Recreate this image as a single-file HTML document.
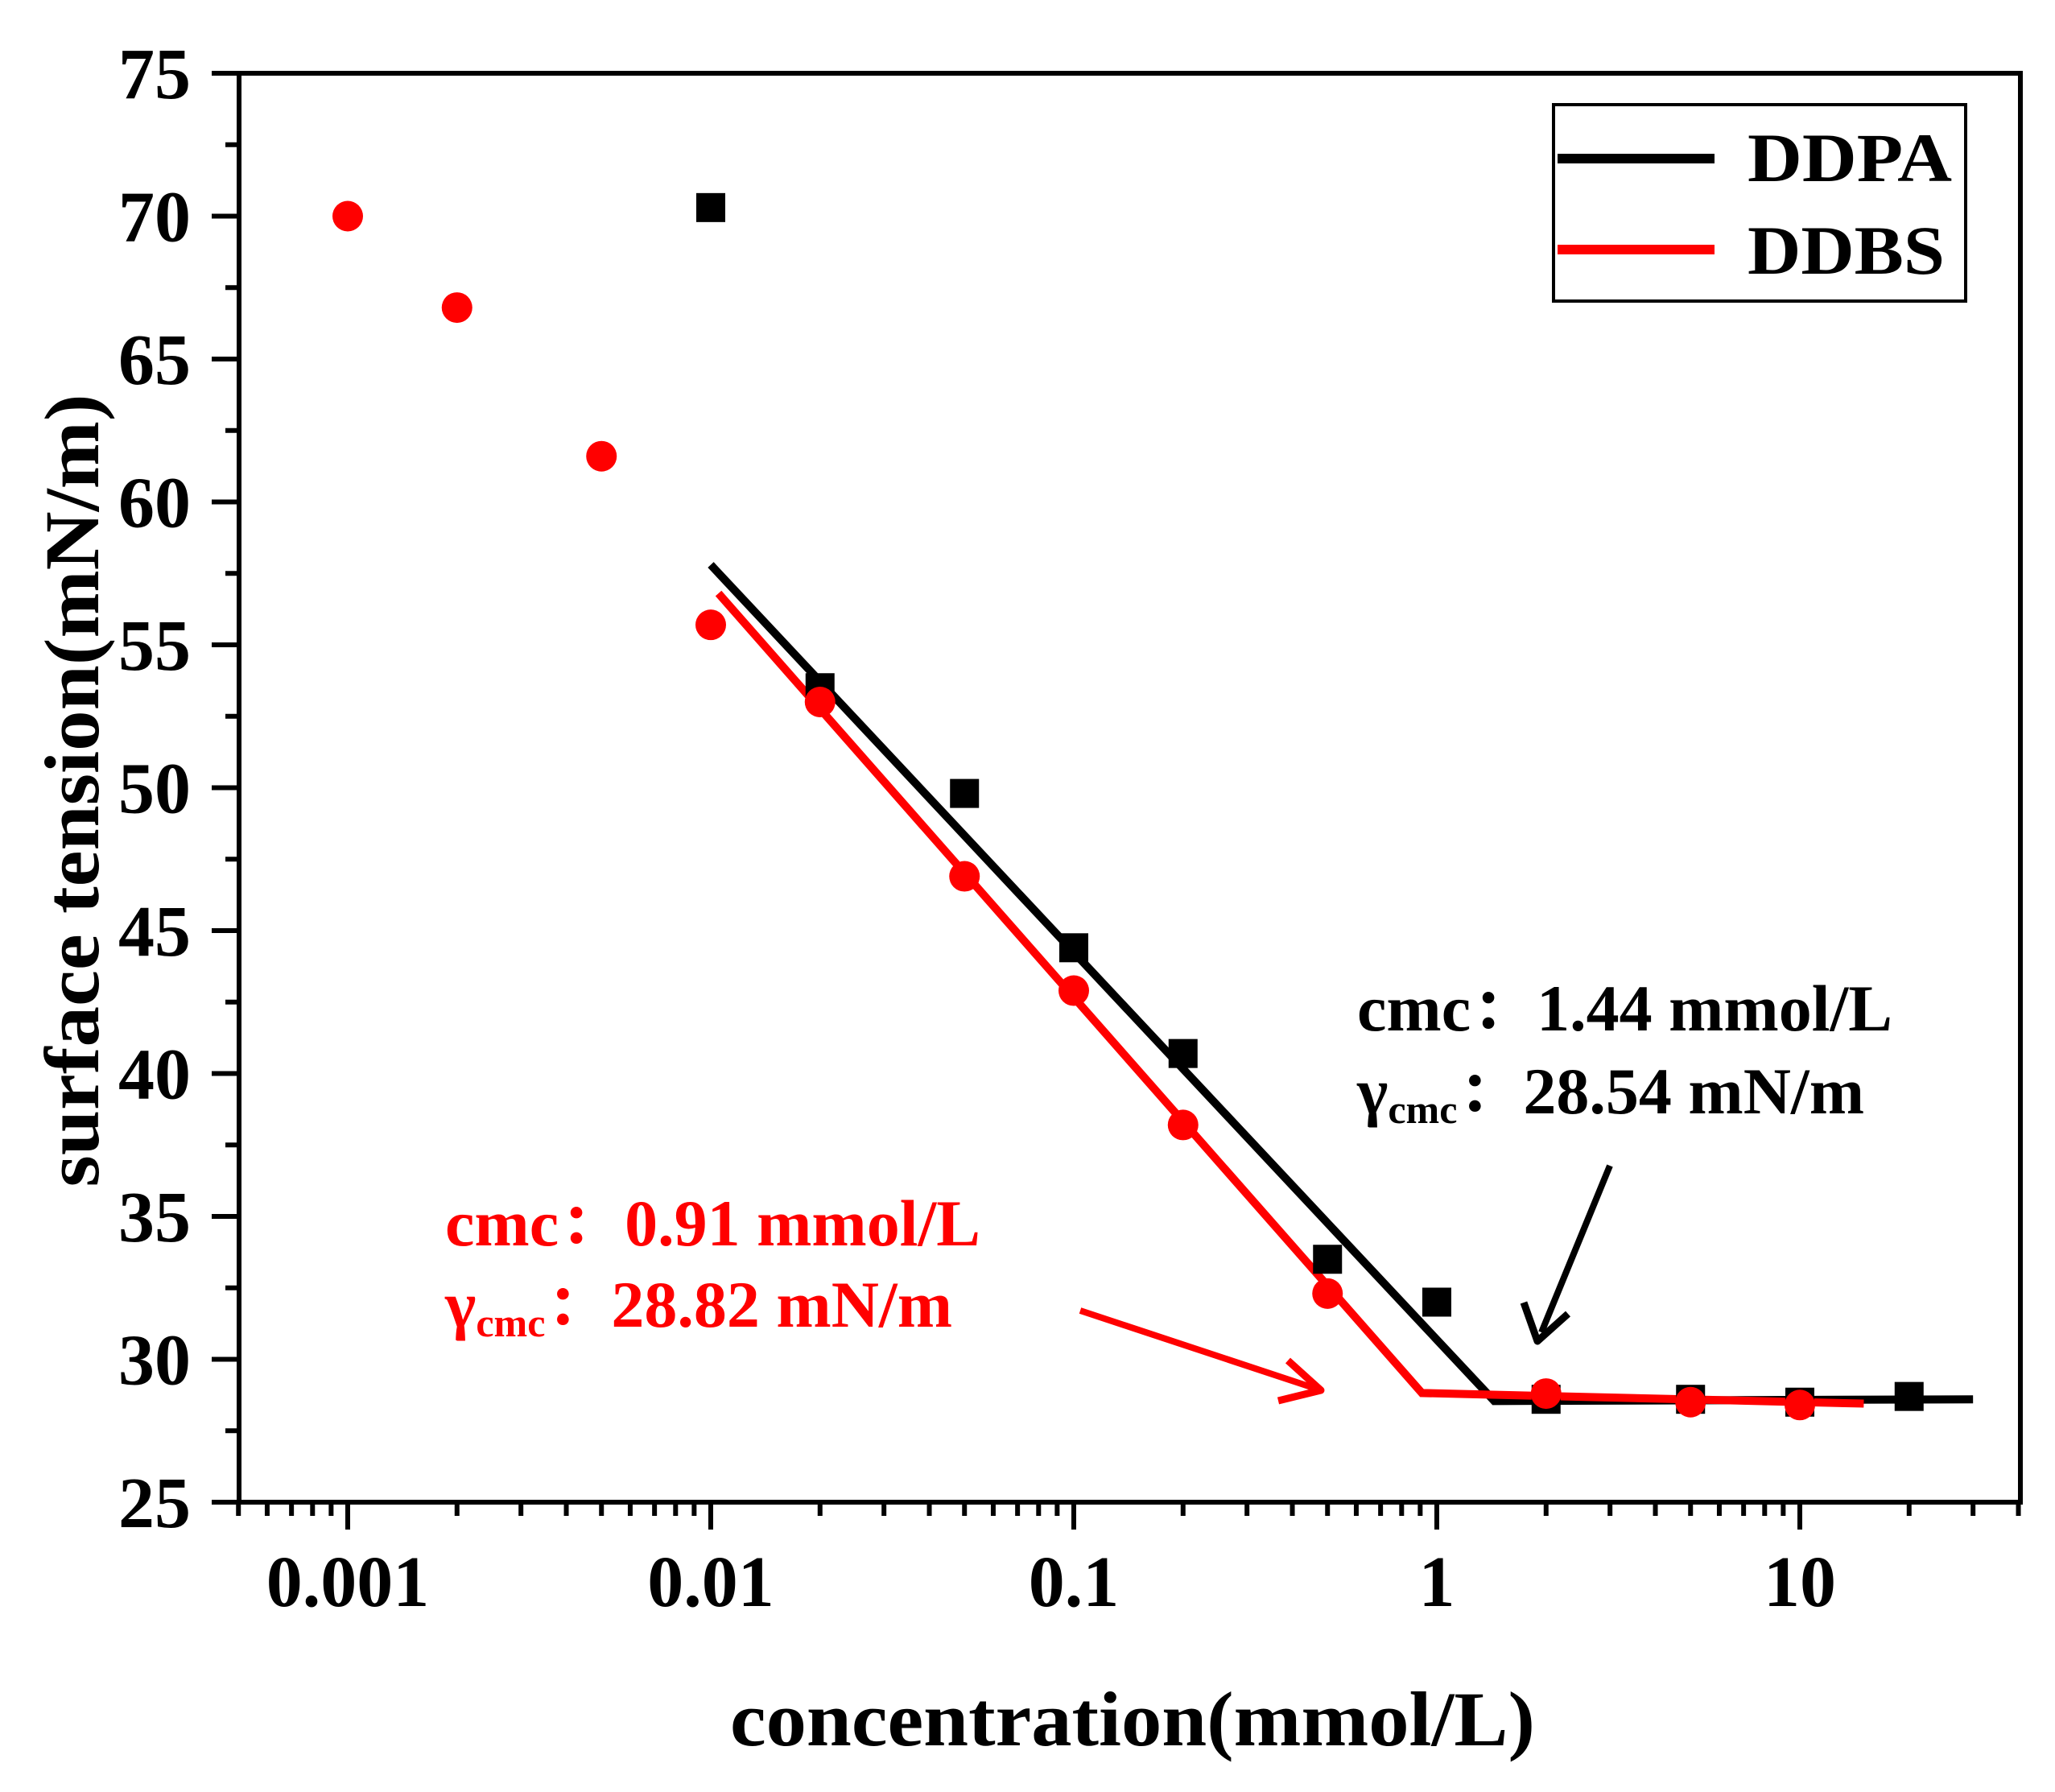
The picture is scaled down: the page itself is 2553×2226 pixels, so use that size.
<!DOCTYPE html>
<html><head><meta charset="utf-8"><style>
html,body{margin:0;padding:0;background:#fff;}
svg{display:block;}
text{font-family:"Liberation Serif","Noto Serif CJK SC",serif;font-weight:bold;}
</style></head><body>
<svg id="chart" width="2553" height="2226" viewBox="0 0 2553 2226" xmlns="http://www.w3.org/2000/svg">
<g id="axes"></g>
<g id="fits"></g>
<g id="marks"></g>
<g>
<rect x="1930" y="130" width="512" height="244" fill="#fff" stroke="#000" stroke-width="4"/>
<line x1="1935" y1="197" x2="2130" y2="197" stroke="#000" stroke-width="12"/>
<text x="2171" y="225" font-size="86" textLength="254" lengthAdjust="spacingAndGlyphs">DDPA</text>
<line x1="1935" y1="310" x2="2130" y2="310" stroke="#f00" stroke-width="12"/>
<text x="2171" y="340" font-size="86" textLength="245" lengthAdjust="spacingAndGlyphs">DDBS</text>
</g>
<g>
<text x="1686" y="1280" font-size="82" fill="#000">cmc：1.44 mmol/L</text>
<text x="1686" y="1383" font-size="82" fill="#000">γ<tspan font-size="50" dy="12">cmc</tspan><tspan dy="-12">：28.54 mN/m</tspan></text>
<line x1="2000" y1="1448" x2="1915" y2="1655" stroke="#000" stroke-width="8"/>
<polyline points="1893,1618 1910,1666 1948,1632" fill="none" stroke="#000" stroke-width="9" stroke-linejoin="round"/>
</g>
<g>
<text x="553" y="1547" font-size="82" fill="#f00">cmc：0.91 mmol/L</text>
<text x="553" y="1648" font-size="82" fill="#f00">γ<tspan font-size="50" dy="12">cmc</tspan><tspan dy="-12">：28.82 mN/m</tspan></text>
<line x1="1342" y1="1628" x2="1632" y2="1724" stroke="#f00" stroke-width="8"/>
<polyline points="1600,1690 1641,1727 1588,1740" fill="none" stroke="#f00" stroke-width="9" stroke-linejoin="round"/>
</g>
<text x="1407" y="2168" font-size="96" text-anchor="middle" textLength="1000" lengthAdjust="spacingAndGlyphs">concentration(mmol/L)</text>
<text transform="translate(122,982) rotate(-90)" font-size="96" text-anchor="middle" textLength="985" lengthAdjust="spacingAndGlyphs">surface tension(mN/m)</text>
</svg>
<script>
const ddbsX=[0.001,0.002,0.005,0.01,0.02,0.05,0.1,0.2,0.5,2,5,10];
const ddbsY=[70,66.8,61.6,55.7,53,46.9,42.9,38.2,32.3,28.8,28.5,28.4];
const ddpaX=[0.01,0.02,0.05,0.1,0.2,0.5,1,2,5,10,20];
const ddpaY=[70.3,53.5,49.8,44.4,40.7,33.5,32.0,28.6,28.6,28.5,28.7];
const ddpaFitX=[0.01,1.44,30];
const ddpaFitY=[57.8,28.54,28.6];
const ddbsFitX=[0.0105,0.91,15];
const ddbsFitY=[56.8,28.82,28.45];
const yTicks=[25,30,35,40,45,50,55,60,65,70,75];
const xTicks=[0.001,0.01,0.1,1,10];
const xTickLabels=["0.001","0.01","0.1","1","10"];
const NS="http://www.w3.org/2000/svg";
const L=297,R=2510,T=91,B=1866;
function sx(v){return 432+451*Math.log10(v/0.001);}
function sy(v){return T+(75-v)*(B-T)/50;}
function mk(tag,attrs,parent){const e=document.createElementNS(NS,tag);for(const k in attrs)e.setAttribute(k,attrs[k]);parent.appendChild(e);return e;}
const axes=document.getElementById('axes');
let f=mk('rect',{x:L,y:T,width:R-L,height:B-T,fill:'none',stroke:'#000','stroke-width':6},axes);


yTicks.forEach((v,i)=>{
  const y=sy(v);
  let t=mk('line',{x1:L-34,y1:y,x2:L,y2:y,stroke:'#000','stroke-width':6},axes);
  
  
  if(i<yTicks.length-1){const ym=sy(v+2.5);
    let m=mk('line',{x1:L-17,y1:ym,x2:L,y2:ym,stroke:'#000','stroke-width':6},axes);
    
    }
  let lb=mk('text',{x:237,y:y+31,'font-size':90,'text-anchor':'end'},axes);
  lb.textContent=String(v);
  
  
});
for(let d=-4;d<=1;d++){for(let k=1;k<=9;k++){
  const v=k*Math.pow(10,d);const x=sx(v);
  if(x<L-2||x>R+2)continue;
  const major=(k===1);
  let t=mk('line',{x1:x,y1:B,x2:x,y2:B+(major?34:17),stroke:'#000','stroke-width':6},axes);
  
  
}}
xTicks.forEach((v,i)=>{
  let lb=mk('text',{x:sx(v),y:1995,'font-size':90,'text-anchor':'middle'},axes);
  lb.textContent=xTickLabels[i];
  
  
});
const fits=document.getElementById('fits');
let p1=mk('polyline',{points:ddpaFitX.map((x,i)=>sx(x)+','+sy(ddpaFitY[i])).join(' '),fill:'none',stroke:'#000','stroke-width':10},fits);


let p2=mk('polyline',{points:ddbsFitX.map((x,i)=>sx(x)+','+sy(ddbsFitY[i])).join(' '),fill:'none',stroke:'#f00','stroke-width':10},fits);


const marks=document.getElementById('marks');
ddpaX.forEach((x,i)=>{
  let r=mk('rect',{x:sx(x)-18,y:sy(ddpaY[i])-18,width:36,height:36,fill:'#000'},marks);
  
  
});
ddbsX.forEach((x,i)=>{
  let c=mk('circle',{cx:sx(x),cy:sy(ddbsY[i]),r:19,fill:'#f00'},marks);
  
  
});
</script>
</body></html>
